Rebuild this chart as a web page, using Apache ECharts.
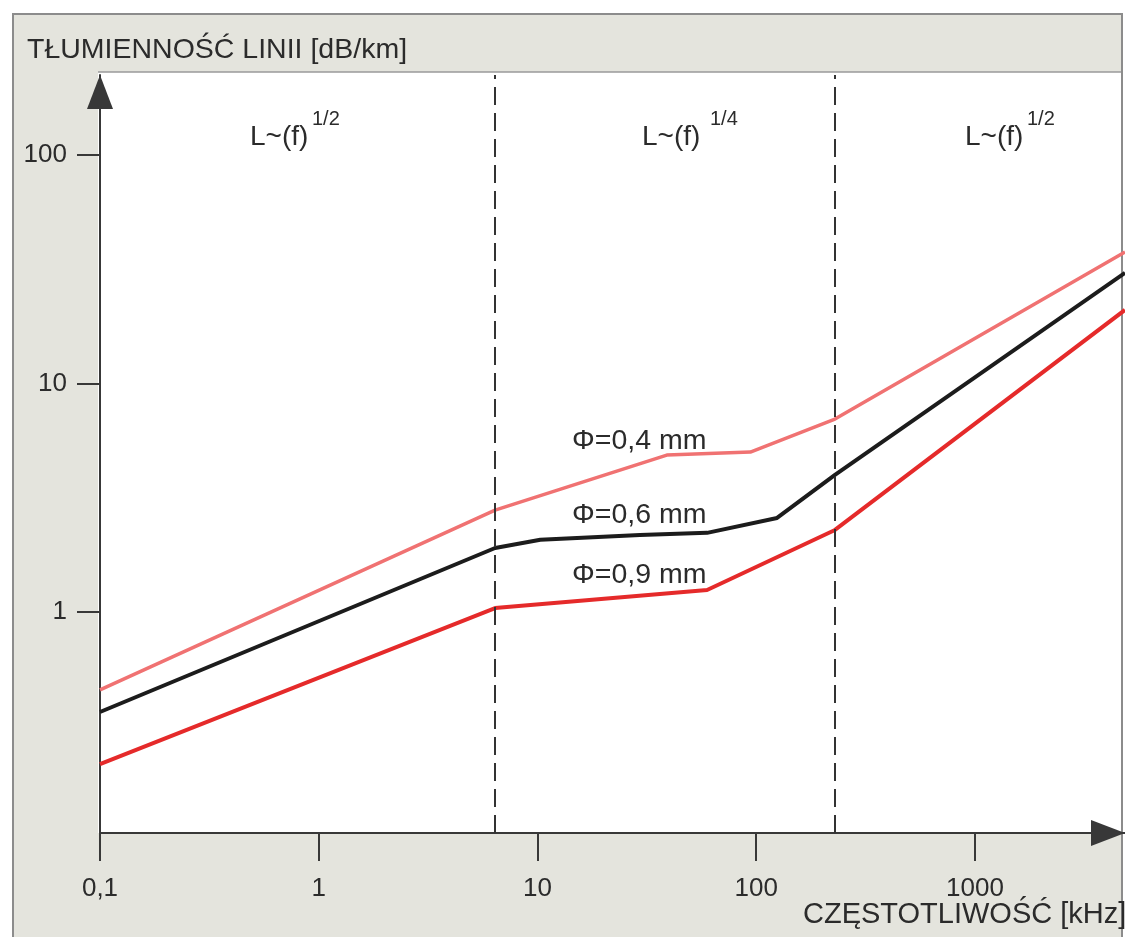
<!DOCTYPE html>
<html>
<head>
<meta charset="utf-8">
<style>
  html, body { margin: 0; padding: 0; background: #ffffff; }
  #chart { width: 1125px; height: 937px; }
</style>
<script src="https://cdn.jsdelivr.net/npm/echarts@6/dist/echarts.min.js"></script>
</head>
<body>
<div id="chart"></div>
<script>
// ---- data ----
const xTicks = [0.1, 1, 10, 100, 1000];          // kHz
const yTicks = [1, 10, 100];                     // dB/km
const xRange = [0.1, 4850];
const yRange = [0.1078, 224];
const regionBounds = [6.4, 229];                 // dashed boundaries, kHz

const freq04 = [0.1, 6.4, 39, 94, 229, 4850];
const att04  = [0.456, 2.79, 4.86, 5.01, 6.99, 37.6];

const freq06 = [0.1, 6.4, 10.3, 29.4, 59.6, 124.5, 229, 4850];
const att06  = [0.365, 1.906, 2.07, 2.17, 2.22, 2.58, 3.98, 30.5];

const freq09 = [0.1, 6.4, 59.6, 229, 4850];
const att09  = [0.216, 1.04, 1.248, 2.286, 20.99];

const seriesNames = ['Φ=0,4 mm', 'Φ=0,6 mm', 'Φ=0,9 mm'];
const regionBase = 'L~(f)';
const regionExp = ['1/2', '1/4', '1/2'];
const yTitle = 'TŁUMIENNOŚĆ LINII [dB/km]';
const xTitle = 'CZĘSTOTLIWOŚĆ [kHz]';

// ---- chart ----
const FONT = '"Liberation Sans", Arial, Helvetica, sans-serif';
const TXT = '#2b2b2b';
const AXC = '#383838';
const pairs = (xs, ys) => xs.map((x, i) => [x, ys[i]]);

const chart = echarts.init(document.getElementById('chart'), null, { renderer: 'canvas' });

function txt(text, x, y, size) {
  return {
    type: 'text', x: x, y: y, z: 100,
    style: { text: text, fill: TXT, font: size + 'px ' + FONT, textAlign: 'left', textVerticalAlign: 'middle' }
  };
}

const graphics = [
  { type: 'rect', z: -100, shape: { x: 13, y: 14, width: 1109, height: 940 }, style: { fill: '#e4e4dd' } },
  { type: 'rect', z: -99, shape: { x: 98, y: 72, width: 1024, height: 761 }, style: { fill: '#ffffff' } },
  { type: 'line', z: -98, shape: { x1: 98, y1: 72, x2: 1122, y2: 72 }, style: { stroke: '#9a9a9a', lineWidth: 1.5 } },
  { type: 'rect', z: -97, shape: { x: 13, y: 14, width: 1109, height: 940 }, style: { fill: null, stroke: '#8c8c8c', lineWidth: 2 } },
  txt(yTitle, 27, 50, 28.5),
  txt(xTitle, 803, 915, 29),
  txt(regionBase, 250, 137, 28), txt(regionExp[0], 312, 119, 20),
  txt(regionBase, 642, 137, 28), txt(regionExp[1], 710, 119, 20),
  txt(regionBase, 965, 137, 28), txt(regionExp[2], 1027, 119, 20),
  txt(seriesNames[0], 572, 441, 28.5),
  txt(seriesNames[1], 572, 515, 28.5),
  txt(seriesNames[2], 572, 575, 28.5)
];

const option = {
  animation: false,
  backgroundColor: '#ffffff',
  textStyle: { fontFamily: FONT },
  grid: { left: 100, right: 0, top: 75, bottom: 104, containLabel: false },
  xAxis: {
    type: 'log', logBase: 10, min: xRange[0], max: xRange[1],
    axisLine: { show: true, onZero: false, symbol: ['none', 'triangle'], symbolSize: [26, 34], symbolOffset: [0, -17],
      lineStyle: { color: AXC, width: 2 } },
    axisTick: { show: true, length: 28, customValues: xTicks, lineStyle: { color: AXC, width: 2 } },
    axisLabel: { show: true, customValues: xTicks, margin: 56, fontSize: 26, color: TXT, fontFamily: FONT,
      verticalAlign: 'middle', formatter: v => String(v).replace('.', ',') },
    splitLine: { show: false }, minorTick: { show: false }, minorSplitLine: { show: false }
  },
  yAxis: {
    type: 'log', logBase: 10, min: yRange[0], max: yRange[1],
    axisLine: { show: true, onZero: false, symbol: ['none', 'triangle'], symbolSize: [26, 34], symbolOffset: [0, -17],
      lineStyle: { color: AXC, width: 2 } },
    axisTick: { show: true, length: 23, customValues: yTicks, lineStyle: { color: AXC, width: 2 } },
    axisLabel: { show: true, customValues: yTicks, margin: 33, fontSize: 26, color: TXT, fontFamily: FONT,
      align: 'right', verticalAlign: 'middle', formatter: v => String(v) },
    splitLine: { show: false }, minorTick: { show: false }, minorSplitLine: { show: false }
  },
  series: [
    { name: seriesNames[0], type: 'line', data: pairs(freq04, att04), symbol: 'none', z: 3,
      lineStyle: { color: '#f07272', width: 3.5 } },
    { name: seriesNames[1], type: 'line', data: pairs(freq06, att06), symbol: 'none', z: 4,
      lineStyle: { color: '#1c1c1c', width: 4 } },
    { name: seriesNames[2], type: 'line', data: pairs(freq09, att09), symbol: 'none', z: 3,
      lineStyle: { color: '#e52a2a', width: 4 },
      markLine: { silent: true, symbol: ['none', 'none'], label: { show: false },
        lineStyle: { color: '#333333', width: 2, type: [18, 8] },
        data: regionBounds.map(b => ({ xAxis: b })) } }
  ],
  graphic: graphics
};
chart.setOption(option);
</script>
</body>
</html>
